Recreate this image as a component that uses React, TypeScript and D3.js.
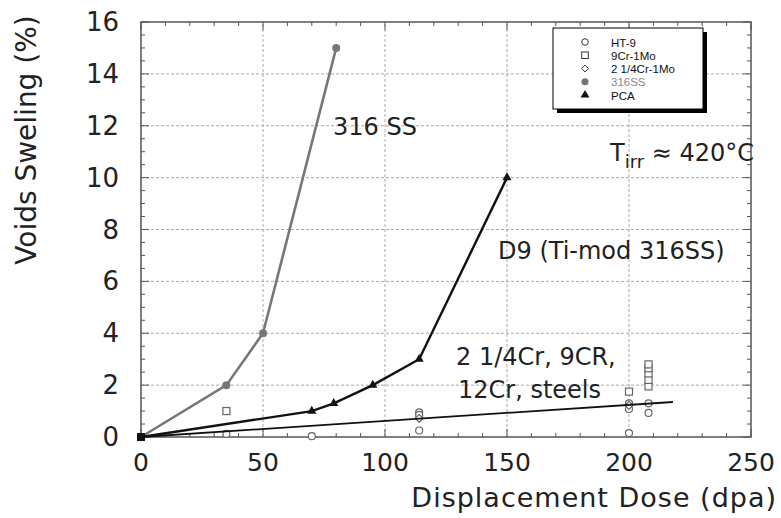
import React, { useEffect, useRef } from 'react';
import * as d3 from 'd3';

// data
const ss316 = [
  { x: 0, y: 0 }, { x: 35, y: 2 }, { x: 50, y: 4 }, { x: 80, y: 15 },
];
const pca = [
  { x: 0, y: 0 }, { x: 70, y: 1 }, { x: 79, y: 1.3 }, { x: 95, y: 2 }, { x: 114, y: 3 }, { x: 150, y: 10 },
];
const ferriticFit = [{ x: 0, y: 0 }, { x: 218, y: 1.35 }];
const ht9 = [
  { x: 35, y: 0.12 }, { x: 70, y: 0.03 }, { x: 114, y: 0.95 }, { x: 114, y: 0.85 }, { x: 114, y: 0.25 },
  { x: 200, y: 0.15 }, { x: 200, y: 1.08 }, { x: 200, y: 1.3 }, { x: 208, y: 1.3 }, { x: 208, y: 0.93 },
];
const cr9 = [
  { x: 35, y: 1.0 }, { x: 200, y: 1.75 },
  { x: 208, y: 1.95 }, { x: 208, y: 2.2 }, { x: 208, y: 2.45 }, { x: 208, y: 2.65 }, { x: 208, y: 2.8 },
];
const cr214 = [{ x: 114, y: 0.72 }, { x: 200, y: 1.22 }];
const legendLabels = ['HT-9', '9Cr-1Mo', '2 1/4Cr-1Mo', '316SS', 'PCA'];
const xTicks = [0, 50, 100, 150, 200, 250];
const yTicks = [0, 2, 4, 6, 8, 10, 12, 14, 16];

const FONT = '"DejaVu Sans", sans-serif';

const App = () => {
  const svgRef = useRef(null);

  useEffect(() => {
    const svg = d3.select(svgRef.current);
    svg.selectAll('*').remove();

    const x = d3.scaleLinear().domain([0, 250]).range([141, 751]);
    const y = d3.scaleLinear().domain([0, 16]).range([437, 22]);

    const g = svg.append('g');

    // grid
    g.selectAll('.gx').data([50, 100, 150, 200]).enter().append('line')
      .attr('x1', d => x(d)).attr('x2', d => x(d)).attr('y1', y(0)).attr('y2', y(16))
      .attr('stroke', '#aaa').attr('stroke-dasharray', '3,2').attr('stroke-width', 1);
    g.selectAll('.gy').data(yTicks.slice(1, -1)).enter().append('line')
      .attr('y1', d => y(d)).attr('y2', d => y(d)).attr('x1', x(0)).attr('x2', x(250))
      .attr('stroke', '#aaa').attr('stroke-dasharray', '3,2').attr('stroke-width', 1);

    // frame
    g.append('rect').attr('x', x(0)).attr('y', y(16)).attr('width', x(250) - x(0)).attr('height', y(0) - y(16))
      .attr('fill', 'none').attr('stroke', '#555').attr('stroke-width', 1.5);

    // ticks on all four sides, pointing inwards
    const xMinor = d3.range(0, 251, 10);
    const yMinor = d3.range(0, 16.01, 0.5);
    const tk = (vals, major, isX) => {
      vals.forEach(v => {
        const len = major.includes(v) ? 8 : 4;
        if (isX) {
          g.append('line').attr('x1', x(v)).attr('x2', x(v)).attr('y1', y(0)).attr('y2', y(0) - len).attr('stroke', '#555');
          g.append('line').attr('x1', x(v)).attr('x2', x(v)).attr('y1', y(16)).attr('y2', y(16) + len).attr('stroke', '#555');
        } else {
          g.append('line').attr('y1', y(v)).attr('y2', y(v)).attr('x1', x(0)).attr('x2', x(0) + len).attr('stroke', '#555');
          g.append('line').attr('y1', y(v)).attr('y2', y(v)).attr('x1', x(250)).attr('x2', x(250) - len).attr('stroke', '#555');
        }
      });
    };
    tk(xMinor, xTicks, true);
    tk(yMinor, yTicks, false);

    // tick labels
    g.selectAll('.xl').data(xTicks).enter().append('text')
      .attr('x', d => x(d)).attr('y', 471).attr('text-anchor', 'middle')
      .attr('font-family', FONT).attr('font-size', 25).attr('fill', '#222').text(d => d);
    g.selectAll('.yl').data(yTicks).enter().append('text')
      .attr('x', 119).attr('y', d => y(d) + 9).attr('text-anchor', 'end')
      .attr('font-family', FONT).attr('font-size', 26).attr('fill', '#222').text(d => d);

    // axis titles
    g.append('text').attr('x', 777).attr('y', 507).attr('text-anchor', 'end')
      .attr('font-family', FONT).attr('font-size', 27).attr('letter-spacing', 1).attr('fill', '#222').text('Displacement Dose (dpa)');
    g.append('text').attr('transform', 'translate(36,140) rotate(-90)').attr('text-anchor', 'middle')
      .attr('font-family', FONT).attr('font-size', 28).attr('fill', '#222').text('Voids Sweling (%)');

    const line = d3.line().x(d => x(d.x)).y(d => y(d.y));

    // open symbols
    const symG = g.append('g').attr('fill', 'white').attr('stroke', '#666').attr('stroke-width', 1.2);
    symG.selectAll('.ht9').data(ht9).enter().append('circle')
      .attr('cx', d => x(d.x)).attr('cy', d => y(d.y)).attr('r', 3.5);
    symG.selectAll('.cr9').data(cr9).enter().append('rect')
      .attr('x', d => x(d.x) - 3.5).attr('y', d => y(d.y) - 3.5).attr('width', 7).attr('height', 7);
    symG.selectAll('.cr2').data(cr214).enter().append('path')
      .attr('d', d3.symbol(d3.symbolDiamond2, 40)())
      .attr('transform', d => `translate(${x(d.x)},${y(d.y)})`);

    // lines
    g.append('path').datum(ferriticFit).attr('d', line).attr('fill', 'none').attr('stroke', '#111').attr('stroke-width', 1.8);
    g.append('path').datum(ss316).attr('d', line).attr('fill', 'none').attr('stroke', '#777').attr('stroke-width', 2.6);
    g.append('path').datum(pca).attr('d', line).attr('fill', 'none').attr('stroke', '#111').attr('stroke-width', 2.4);

    g.selectAll('.ssp').data(ss316.slice(1)).enter().append('circle')
      .attr('cx', d => x(d.x)).attr('cy', d => y(d.y)).attr('r', 4).attr('fill', '#777');
    g.selectAll('.pcap').data(pca.slice(1)).enter().append('path')
      .attr('d', d3.symbol(d3.symbolTriangle, 36)())
      .attr('transform', d => `translate(${x(d.x)},${y(d.y)})`).attr('fill', '#111');
    g.append('rect').attr('x', x(0) - 4).attr('y', y(0) - 4).attr('width', 8).attr('height', 8).attr('fill', '#111');

    // annotations
    const ann = (tx, ty, t, size = 24) => g.append('text').attr('x', tx).attr('y', ty)
      .attr('font-family', FONT).attr('font-size', size).attr('fill', '#222').text(t);
    ann(333, 135, '316 SS');
    ann(498, 259, 'D9 (Ti-mod 316SS)');
    ann(456, 365, '2 1/4Cr, 9CR,');
    ann(458, 398, '12Cr, steels');
    const t = g.append('text').attr('x', 610).attr('y', 161)
      .attr('font-family', FONT).attr('font-size', 24).attr('fill', '#222');
    t.append('tspan').text('T');
    t.append('tspan').attr('dy', 7).attr('font-size', 18).text('irr');
    t.append('tspan').attr('dy', -7).text(' ≈ 420°C');

    // legend
    const lg = g.append('g');
    lg.append('rect').attr('x', 557).attr('y', 32).attr('width', 150).attr('height', 81).attr('fill', '#000');
    lg.append('rect').attr('x', 553).attr('y', 28).attr('width', 150).attr('height', 81)
      .attr('fill', 'white').attr('stroke', '#000').attr('stroke-width', 1);
    const ly = d3.scalePoint().domain(legendLabels).range([42, 95]);
    legendLabels.forEach((lab, i) => {
      const cy = ly(lab);
      const sx = 585;
      if (i === 0) lg.append('circle').attr('cx', sx).attr('cy', cy).attr('r', 3.3).attr('fill', 'none').attr('stroke', '#333');
      if (i === 1) lg.append('rect').attr('x', sx - 3.3).attr('y', cy - 3.3).attr('width', 6.6).attr('height', 6.6).attr('fill', 'none').attr('stroke', '#333');
      if (i === 2) lg.append('path').attr('d', d3.symbol(d3.symbolDiamond2, 30)()).attr('transform', `translate(${sx},${cy})`).attr('fill', 'none').attr('stroke', '#333');
      if (i === 3) lg.append('circle').attr('cx', sx).attr('cy', cy).attr('r', 3.6).attr('fill', '#777');
      if (i === 4) lg.append('path').attr('d', d3.symbol(d3.symbolTriangle, 34)()).attr('transform', `translate(${sx},${cy})`).attr('fill', '#111');
      lg.append('text').attr('x', 611).attr('y', cy + 4.5).attr('font-family', '"Liberation Sans", Arial, sans-serif')
        .attr('font-size', 11.5).attr('fill', i === 3 ? '#888' : '#111').text(lab);
    });
  }, []);

  return (
    <svg ref={svgRef} width={781} height={518}
      style={{ position: 'absolute', left: 0, top: 0, background: 'white' }} />
  );
};

export default App;
